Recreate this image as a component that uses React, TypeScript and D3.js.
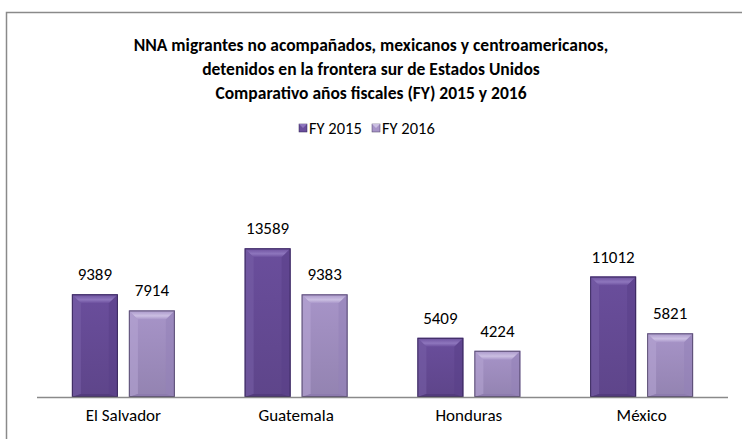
import React from "react";
import * as d3 from "d3";

const categories = ["El Salvador", "Guatemala", "Honduras", "México"];
const series = ["FY 2015", "FY 2016"];
const fy2015 = [9389, 13589, 5409, 11012];
const fy2016 = [7914, 9383, 4224, 5821];
const titleLines = [
  "NNA migrantes no acompañados, mexicanos y centroamericanos,",
  "detenidos en la frontera sur de Estados Unidos",
  "Comparativo años fiscales (FY) 2015 y 2016",
];

const W = 742;
const H = 439;
const FONT = "Carlito, Calibri, Lato, 'Open Sans', sans-serif";

const palettes = [
  { main: "#6a4e9c", top: "#8e76bd", left: "#7860a8", right: "#5a4088", bottom: "#4f3878", edge: "#2f2050" },
  { main: "#a794c8", top: "#cbbfe2", left: "#b6a6d4", right: "#9482b8", bottom: "#8a78ad", edge: "#4a3e62" },
];

export default function App() {
  const x0 = d3.scaleBand<string>().domain(categories).range([37, 728]).paddingInner(0.404).paddingOuter(0.202);
  const x1 = d3.scaleBand<string>().domain(series).range([0, x0.bandwidth()]).paddingInner(0.193);
  const y = d3.scaleLinear().domain([0, 16000]).range([397, 222]);
  const values = [fy2015, fy2016];

  const bars: JSX.Element[] = [];
  categories.forEach((c, ci) => {
    series.forEach((s, si) => {
      const v = values[si][ci];
      const bx = (x0(c) as number) + (x1(s) as number);
      const bw = x1.bandwidth();
      const by = y(v);
      const bh = y(0) - by;
      const b = 9;
      const p = palettes[si];
      bars.push(
        <g key={c + s}>
          <rect x={bx} y={by} width={bw} height={bh} fill={`url(#g${si})`} />
          <polygon points={`${bx},${by} ${bx + bw},${by} ${bx + bw - b},${by + b} ${bx + b},${by + b}`} fill={`url(#t${si})`} />
          <polygon points={`${bx},${by} ${bx + b},${by + b} ${bx + b},${by + bh - 3} ${bx},${by + bh}`} fill={p.left} opacity={0.55} />
          <polygon points={`${bx + bw},${by} ${bx + bw - b},${by + b} ${bx + bw - b},${by + bh - 3} ${bx + bw},${by + bh}`} fill={p.right} opacity={0.55} />
          <polygon points={`${bx},${by + bh} ${bx + b},${by + bh - 3} ${bx + bw - b},${by + bh - 3} ${bx + bw},${by + bh}`} fill={p.bottom} opacity={0.7} />
          <rect x={bx + 0.5} y={by + 0.5} width={bw - 1} height={bh - 1} fill="none" stroke={p.edge} strokeWidth={1} opacity={0.8} />
          <text x={bx + bw / 2} y={by - 14} textAnchor="middle" fontSize={17} fill="#000" fontFamily={FONT}>
            {v}
          </text>
        </g>
      );
    });
  });

  return (
    <div style={{ position: "fixed", left: 0, top: 0, width: W, height: H, background: "#fff" }}>
      <svg width={W} height={H} style={{ display: "block" }}>
        <defs>
          {palettes.map((p, i) => (
            <linearGradient key={"g" + i} id={`g${i}`} x1="0" y1="0" x2="0" y2="1">
              <stop offset="0" stopColor={p.main} />
              <stop offset="1" stopColor={d3.color(p.main)!.darker(0.35).formatHex()} />
            </linearGradient>
          ))}
          {palettes.map((p, i) => (
            <linearGradient key={"t" + i} id={`t${i}`} x1="0" y1="0" x2="0" y2="1">
              <stop offset="0" stopColor={p.main} />
              <stop offset="0.6" stopColor={p.top} />
              <stop offset="1" stopColor={p.main} />
            </linearGradient>
          ))}
        </defs>
        <rect x={6.5} y={12.5} width={800} height={500} fill="none" stroke="#8a8a8a" strokeWidth={1.5} />
        {titleLines.map((t, i) => (
          <text key={i} x={371} y={51 + i * 24} textAnchor="middle" fontSize={17.5} fontWeight="bold" fontFamily={FONT} fill="#000">
            {t}
          </text>
        ))}
        <g>
          {series.map((s, i) => {
            const lx = 299 + i * 73;
            return (
              <g key={s}>
                <rect x={lx} y={124} width={8} height={8} fill={palettes[i].main} stroke={palettes[i].edge} strokeWidth={0.5} />
                <polygon points={`${lx},${124} ${lx + 8},${124} ${lx + 4},${128}`} fill={palettes[i].top} />
                <text x={lx + 10} y={134} fontSize={16.5} fontFamily={FONT} fill="#000">
                  {s}
                </text>
              </g>
            );
          })}
        </g>
        {bars}
        <line x1={37} x2={728} y1={397.5} y2={397.5} stroke="#8a8a8a" strokeWidth={1.5} />
        {categories.map((c) => (
          <text key={c} x={(x0(c) as number) + x0.bandwidth() / 2} y={421} textAnchor="middle" fontSize={17} fontFamily={FONT} fill="#000">
            {c}
          </text>
        ))}
      </svg>
    </div>
  );
}
